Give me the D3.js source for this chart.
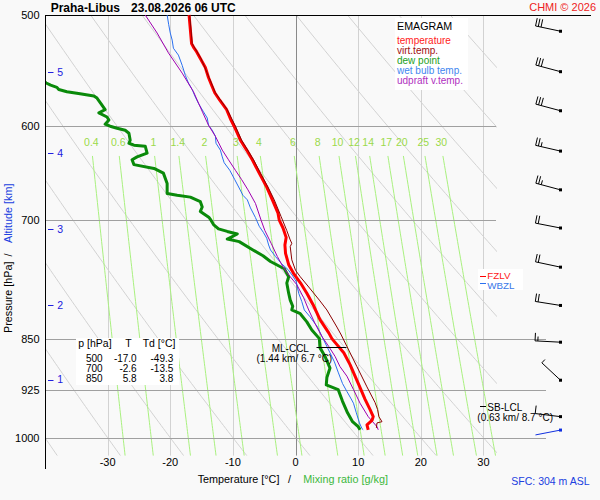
<!DOCTYPE html>
<html><head><meta charset="utf-8">
<script src="https://cdn.jsdelivr.net/npm/d3@7"></script>
<style>
body{margin:0;background:#f9f9f9;}
svg{display:block;font-family:"Liberation Sans",Arial,sans-serif;}
</style>
</head><body>
<svg id="c" width="600" height="500"></svg>
<script>
// ---------------- DATA ----------------
const tempP = [500,512,524,527,531,537,545,554,561,568,575,584,594,600,614,624,634,648,663,677,692,700,709,720,729,739,753,764,776,789,804,824,842,850,870,887,904,921,939,955,966,972,979,987];
const tempT = [-17.0,-16.8,-16.6,-16.3,-15.8,-15.2,-14.4,-13.9,-13.4,-12.9,-12.1,-11.0,-10.3,-9.8,-8.8,-7.8,-6.9,-5.8,-4.6,-3.7,-2.8,-2.6,-2.0,-1.5,-1.7,-1.6,-1.1,-0.3,0.8,1.8,2.8,3.9,5.3,5.8,7.7,8.7,9.5,10.3,11.1,11.9,12.4,12.2,11.4,11.6];

const virtP = [500,524,537,554,568,584,600,614,634,648,663,677,696,712,723,727,731,747,760,768,781,798,811,834,845,861,890,920,944,955,966,974,976,984];
const virtT = [-16.9,-16.5,-15.1,-13.8,-12.8,-10.9,-9.6,-8.6,-6.7,-5.6,-4.4,-3.4,-2.3,-1.4,-0.85,-0.6,-0.85,-0.6,0.0,0.75,2.1,3.8,5.0,6.6,7.3,8.2,9.8,11.4,12.7,13.1,13.3,13.8,13.0,12.9];

const dewP = [500,540,559,561,563,565,567,569,571,573,578,584,587,591,594,598,600,602,604,607,614,617,619,620,627,631,634,639,643,648,659,670,672,674,679,685,690,697,700,705,710,713,716,722,725,735,742,749,754,758,768,776,789,798,806,811,816,827,838,850,863,875,892,906,917,924,942,960,974,982,987];
const dewT = [-49.3,-44.0,-39.8,-39.1,-38.1,-37.8,-36.5,-34.4,-32.2,-31.7,-31.1,-30.4,-31.4,-30.1,-29.8,-30.4,-29.6,-28.5,-27.2,-26.6,-26.4,-26.6,-25.8,-24.0,-23.7,-25.3,-26.1,-25.8,-22.6,-21.1,-20.5,-20.5,-18.9,-16.8,-15.2,-14.9,-15.2,-13.8,-13.5,-13.1,-12.3,-10.9,-9.3,-10.9,-9.0,-6.8,-5.2,-4.0,-2.8,-1.8,-1.1,-1.4,-1.1,-0.85,-0.45,-0.6,0.75,1.8,2.6,3.8,3.9,4.7,5.5,5.0,4.9,6.8,7.5,8.3,9.1,10.0,10.3];

const wbP = [500,508,515,521,528,534,543,552,559,565,572,578,586,592,599,604,610,617,624,631,637,645,655,664,672,677,686,697,707,714,721,729,735,743,752,759,767,774,789,800,811,820,834,852,870,883,898,915,927,937,945,960,976,985,987];
const wbT = [-20.5,-20.25,-20.0,-19.7,-19.5,-18.7,-18.1,-17.6,-17.1,-16.5,-16.0,-15.5,-14.7,-14.1,-13.9,-13.3,-12.8,-12.7,-12.0,-11.7,-11.4,-10.5,-9.7,-9.0,-8.4,-7.7,-7.2,-6.4,-5.8,-5.15,-4.6,-4.3,-4.0,-3.2,-2.2,-1.2,-0.45,0.1,0.5,1.0,1.4,2.3,3.5,4.5,5.5,6.2,6.8,7.5,8.2,8.8,9.25,9.7,10.2,10.6,10.8];

const updP = [500,515,532,550,567,587,599,610,624,634,645,655,666,681,700,712,727,743,757,768,778,795,811,829,847,861,875,890,904,924,945,966,982,987];
const updT = [-24.0,-22.1,-20.3,-18.1,-16.3,-14.8,-13.9,-12.8,-11.7,-10.7,-9.6,-8.6,-7.6,-6.4,-5.5,-4.9,-3.9,-2.9,-1.9,-0.85,0.2,1.3,2.1,3.1,4.2,5.3,6.3,7.1,8.2,9.25,10.3,11.6,13.0,13.2];

const windP   = [513.5,548.7,585,625,666,709,756,805,855,910,966,987.5];
const windDir = [282,285,285,283,285,281,282,279,273,313,277,259];
const windSpd = [30,30,30,25,25,20,20,20,15,5,10,2];

const pressureTicks = [500,600,700,850,925,1000];
const tempTicks = [-30,-20,-10,0,10,20,30];
const isotherms = [-30,-20,-10,0,10,20,30];
const adiabatTheta = [-40,-30,-20,-10,0,10,20,30,40,50,60,70,80,90,100,110];
const mixRatios = [0.4,0.6,1,1.4,2,3,4,6,8,10,12,14,17,20,25,30];
const mixLabels = ["0.4","0.6","1","1.4","2","3","4","6","8","10","12","14","17","20","25","30"];
const altKm = [1,2,3,4,5];
const altP  = [909,805,710,627,549];

const tableP  = ["500","700","850"];
const tableT  = ["-17.0","-2.6","5.8"];
const tableTd = ["-49.3","-13.5","3.8"];

const legendItems = ["temperature","virt.temp.","dew point","wet bulb temp.","udpraft v.temp."];
const legendColors = ["#ff1a1a","#a01010","#22a022","#3f86f0","#b030c0"];

const cclP = 862, cclT = 6.7, cclText = "(1.44 km/ 6.7 °C)";
const lclP = 949, lclText = "(0.63 km/ 8.7 °C)";
const fzlP = 766.5, wbzlP = 776.5;

// ---------------- SCALES ----------------
const svg = d3.select("#c");
const x = d3.scaleLinear().domain([-40,32]).range([45,496]);
const y = d3.scaleLog().domain([500,1050]).range([15,467.5]);
const pBot = 1030;
const cr = v => Math.round(v) + 0.5;

const defs = svg.append("defs");
defs.append("clipPath").attr("id","plot").append("rect")
  .attr("x",45).attr("y",15).attr("width",452).attr("height",y(pBot)-15);
defs.append("clipPath").attr("id","prof").append("rect")
  .attr("x",46).attr("y",0).attr("width",451).attr("height",470);

const line = d3.line().x(d=>x(d[1])).y(d=>y(d[0]));
const psamp = d3.range(500, pBot+0.1, 5);

// ---------------- GRID ----------------
const grid = svg.append("g").attr("clip-path","url(#plot)");

// dry adiabats
adiabatTheta.forEach(th=>{
  const pts = psamp.map(p=>[p,(th+273.15)*Math.pow(p/1000,0.286)-273.15]);
  grid.append("path").attr("d",line(pts)).attr("fill","none")
    .attr("stroke","#d2d2d2").attr("stroke-width",1);
});

// isotherms
isotherms.forEach(t=>{
  grid.append("line").attr("x1",cr(x(t))).attr("x2",cr(x(t)))
    .attr("y1",y(500)).attr("y2",y(pBot))
    .attr("stroke", t===0 ? "#8a8a8a" : "#d2d2d2").attr("stroke-width",1);
});

// mixing ratio lines
function tdFromMix(w,p){
  const e = w*p/(622+w);
  const l = Math.log(e/6.112);
  return 243.5*l/(17.67-l);
}
const mixP = d3.range(630, pBot+0.1, 5);
mixRatios.forEach(w=>{
  const pts = mixP.map(p=>[p, tdFromMix(w,p)]);
  grid.append("path").attr("d",line(pts)).attr("fill","none")
    .attr("stroke","#a9f07f").attr("stroke-width",1);
});
mixRatios.forEach((w,i)=>{
  svg.append("text").attr("x",x(tdFromMix(w,620))).attr("y",y(620))
    .attr("text-anchor","middle").attr("font-size",10.5).attr("fill","#9bd94a")
    .text(mixLabels[i]);
});

// pressure lines
pressureTicks.forEach(p=>{
  if(p===500) return;
  svg.append("line").attr("x1",45).attr("x2", p>=850 ? 546 : 496)
    .attr("y1",cr(y(p))).attr("y2",cr(y(p)))
    .attr("stroke","#a0a0a0").attr("stroke-width",1);
});
svg.append("line").attr("x1",45).attr("x2",591).attr("y1",cr(y(500))).attr("y2",cr(y(500)))
  .attr("stroke","#000").attr("stroke-width",1);
// left axis
svg.append("line").attr("x1",45.5).attr("x2",45.5).attr("y1",y(500)).attr("y2",469)
  .attr("stroke","#000").attr("stroke-width",1);

// legend box (drawn over grid)
svg.append("rect").attr("x",395).attr("y",18).attr("width",73).attr("height",72).attr("fill","#ffffff");
svg.append("text").attr("x",397).attr("y",30).attr("font-size",10.7).attr("fill","#000").text("EMAGRAM");
const lg = svg.append("text").attr("font-size",10);
legendItems.forEach((t,i)=>{
  lg.append("tspan").attr("x",397).attr("y",43.5+i*10.2).attr("fill",legendColors[i]).text(t);
});

// table box
svg.append("rect").attr("x",76).attr("y",338).attr("width",103).attr("height",47).attr("fill","#ffffff");
const tb = svg.append("g").attr("font-size",10.5).attr("fill","#000");
tb.append("text").attr("x",78.3).attr("y",346.7).text("p [hPa]");
tb.append("text").attr("x",125.3).attr("y",346.7).text("T");
tb.append("text").attr("x",142.7).attr("y",346.7).text("Td [°C]");
[[tableP,102.7],[tableT,136.7],[tableTd,173.3]].forEach(([col,xr])=>{
  const t = tb.append("text").attr("text-anchor","end").attr("font-size",10);
  col.forEach((v,i)=>{
    t.append("tspan").attr("x",xr).attr("y",361.5+i*10.2).text(v);
  });
});

// ---------------- PROFILES ----------------
const prof = svg.append("g").attr("clip-path","url(#prof)");
const zip = (P,T)=>P.map((p,i)=>[p,T[i]]);
prof.append("path").attr("d",line(zip(dewP,dewT))).attr("fill","none")
  .attr("stroke","#0a8a0a").attr("stroke-width",3).attr("stroke-linejoin","round");
prof.append("path").attr("d",line(zip(wbP,wbT))).attr("fill","none")
  .attr("stroke","#2a70f0").attr("stroke-width",1);
prof.append("path").attr("d",line(zip(updP,updT))).attr("fill","none")
  .attr("stroke","#a000b0").attr("stroke-width",1);
prof.append("path").attr("d",line(zip(tempP,tempT))).attr("fill","none")
  .attr("stroke","#ff0000").attr("stroke-width",3).attr("stroke-linejoin","round");
prof.append("path").attr("d",line(zip(virtP,virtT))).attr("fill","none")
  .attr("stroke","#8c0000").attr("stroke-width",1);

// ---------------- CCL / LCL / FZL ----------------
const xc = x(cclT), yc = cr(y(cclP));
svg.append("line").attr("x1",xc-21).attr("x2",xc+9).attr("y1",yc).attr("y2",yc)
  .attr("stroke","#000").attr("stroke-width",1);
const ccl = svg.append("text").attr("font-size",10).attr("fill","#000");
ccl.append("tspan").attr("x",271.7).attr("y",351.5).text("ML-CCL");
ccl.append("tspan").attr("x",256.5).attr("y",362.3).text(cclText);

const yl = cr(y(lclP));
svg.append("line").attr("x1",480).attr("x2",486).attr("y1",yl).attr("y2",yl).attr("stroke","#000");
const lcl = svg.append("text").attr("font-size",10).attr("fill","#000");
lcl.append("tspan").attr("x",487.3).attr("y",yl+4.3).text("SB-LCL");
lcl.append("tspan").attr("x",477.3).attr("y",yl+14.3).text(lclText);

svg.append("rect").attr("x",478).attr("y",269).attr("width",45).attr("height",21).attr("fill","#ffffff");
const yf = cr(y(fzlP)), yw = cr(y(wbzlP));
svg.append("line").attr("x1",480).attr("x2",486).attr("y1",yf).attr("y2",yf).attr("stroke","#ff0000");
svg.append("line").attr("x1",480).attr("x2",486).attr("y1",yw).attr("y2",yw).attr("stroke","#2a70f0");
const fz = svg.append("text").attr("font-size",9.8);
fz.append("tspan").attr("x",487.3).attr("y",yf+2.8).attr("fill","#ff2020").text("FZLV");
fz.append("tspan").attr("x",487.3).attr("y",yw+5.6).attr("fill","#3a78e8").text("WBZL");

// ---------------- WIND BARBS ----------------
const bx = 560.5, L = 25.5;
windP.forEach((p,i)=>{
  const a = windDir[i]*Math.PI/180, ux = Math.sin(a), uy = -Math.cos(a);
  const y0 = y(p), tx = bx+L*ux, ty = y0+L*uy;
  const col = i===windP.length-1 ? "#1030e0" : "#000";
  svg.append("line").attr("x1",bx).attr("y1",y0).attr("x2",tx).attr("y2",ty)
    .attr("stroke",col).attr("stroke-width",1);
  const fx = -uy, fy = ux;
  const full = Math.floor(windSpd[i]/10), half = (windSpd[i]%10)>=5 ? 1 : 0;
  let k = 0;
  for(let j=0;j<full;j++){
    const px = tx-ux*k*2.8, py = ty-uy*k*2.8;
    svg.append("line").attr("x1",px).attr("y1",py).attr("x2",px+fx*8).attr("y2",py+fy*8)
      .attr("stroke",col).attr("stroke-width",1);
    k++;
  }
  if(half){
    const px = tx-ux*k*2.8, py = ty-uy*k*2.8;
    svg.append("line").attr("x1",px).attr("y1",py).attr("x2",px+fx*4.5).attr("y2",py+fy*4.5)
      .attr("stroke",col).attr("stroke-width",1);
  }
  svg.append("rect").attr("x",bx-1.5).attr("y",y0-1.5).attr("width",3).attr("height",3).attr("fill",col);
});

// ---------------- AXES TEXT ----------------
pressureTicks.forEach(p=>{
  svg.append("text").attr("x",39.5).attr("y",y(p)+4).attr("text-anchor","end")
    .attr("font-size",11).attr("fill","#000").text(p);
});
tempTicks.forEach(t=>{
  svg.append("text").attr("x",x(t)).attr("y",466).attr("text-anchor","middle")
    .attr("font-size",11).attr("fill","#000").text(t);
});
altKm.forEach((k,i)=>{
  const yy = y(altP[i]);
  svg.append("line").attr("x1",48).attr("x2",53.5).attr("y1",cr(yy)).attr("y2",cr(yy))
    .attr("stroke","#2020e0").attr("stroke-width",1);
  svg.append("text").attr("x",57.3).attr("y",yy+3.8).attr("font-size",10.5)
    .attr("fill","#2020e0").text(k);
});

// titles
svg.append("text").attr("x",50.7).attr("y",11.7).attr("font-size",12).attr("font-weight","bold")
  .attr("fill","#000").text("Praha-Libus");
svg.append("text").attr("x",131).attr("y",11.7).attr("font-size",12).attr("font-weight","bold")
  .attr("fill","#000").text("23.08.2026 06 UTC");
svg.append("text").attr("x",596).attr("y",10.7).attr("text-anchor","end").attr("font-size",11)
  .attr("fill","#ee2222").text("CHMI © 2026");

svg.append("text").attr("x",197.7).attr("y",482.7).attr("font-size",10.8).attr("fill","#000").text("Temperature [°C]");
svg.append("text").attr("x",288).attr("y",482.7).attr("font-size",10.8).attr("fill","#000").text("/");
svg.append("text").attr("x",303.3).attr("y",482.7).attr("font-size",10.8).attr("fill","#3cb83c").text("Mixing ratio [g/kg]");
svg.append("text").attr("x",589.5).attr("y",485).attr("text-anchor","end").attr("font-size",10.5)
  .attr("fill","#2040e0").text("SFC: 304 m ASL");

svg.append("text").attr("transform","translate(12,333) rotate(-90)").attr("font-size",10.8)
  .attr("fill","#000").text("Pressure [hPa]");
svg.append("text").attr("transform","translate(12,255) rotate(-90)").attr("text-anchor","middle")
  .attr("font-size",10.8).attr("fill","#000").text("/");
svg.append("text").attr("transform","translate(12,243) rotate(-90)").attr("font-size",10.8)
  .attr("fill","#2040e0").text("Altitude [km]");
</script>
</body></html>
